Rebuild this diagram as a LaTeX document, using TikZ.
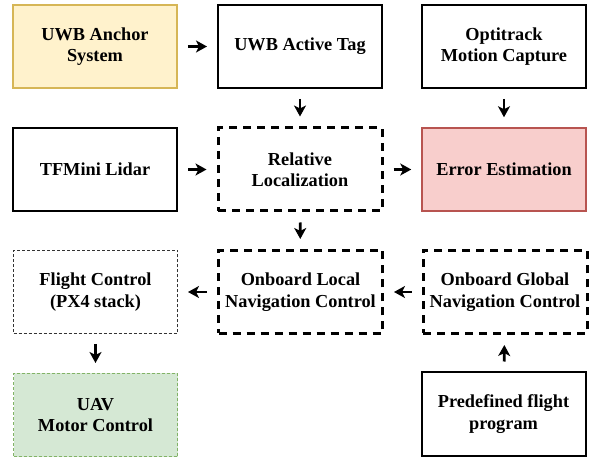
\documentclass[tikz,border=0pt]{standalone}
\usepackage{fontspec}
\newfontfamily\tnr{Liberation Serif}[BoldFont={Liberation Serif Bold}]
\usetikzlibrary{arrows.meta}
\definecolor{yfill}{HTML}{FFF2CC}
\definecolor{ydraw}{HTML}{D6B656}
\definecolor{rfill}{HTML}{F8CECC}
\definecolor{rdraw}{HTML}{B85450}
\definecolor{gfill}{HTML}{D5E8D4}
\definecolor{gdraw}{HTML}{82B366}
\begin{document}
\begin{tikzpicture}[x=1pt,y=-1pt,
  box/.style={minimum width=164pt,minimum height=83pt,align=center,inner sep=0pt,
    font=\tnr\bfseries\fontsize{18.3}{21.5}\selectfont},
  solidbox/.style={box,draw=black,line width=2pt},
  dashbox/.style={box,draw=black,line width=3pt,dash pattern=on 8pt off 6pt},
  dotbox/.style={box,draw=black!80,line width=1pt,dash pattern=on 3pt off 2pt},
  arr/.style={-{Stealth[length=11pt,width=12pt,inset=3pt]},line width=2.8pt,shorten >=10pt,shorten <=10pt}]
\useasboundingbox (0,0) rectangle (595,457);
\node[box,draw=ydraw,fill=yfill,line width=1.5pt] (anchor) at (95,46.5) {UWB Anchor\\System};
\node[solidbox] (tag) at (300,46.5) {UWB Active Tag};
\node[solidbox] (opti) at (504,46.5) {Optitrack\\Motion Capture};
\node[solidbox] (lidar) at (95,169.5) {TFMini Lidar};
\node[dashbox] (rel) at (300,169.5) {Relative\\Localization};
\node[box,draw=rdraw,fill=rfill,line width=1.5pt] (err) at (504,169.5) {Error Estimation};
\node[dotbox] (fc) at (95.5,292) {Flight Control\\(PX4 stack)};
\node[dashbox] (local) at (300.5,292) {Onboard Local\\Navigation Control};
\node[dashbox] (global) at (505,292) {Onboard Global\\Navigation Control};
\node[box,draw=gdraw,fill=gfill,line width=1pt,dash pattern=on 3pt off 2pt] (uav) at (95.5,415) {UAV\\Motor Control};
\node[solidbox] (pre) at (503.5,414) {Predefined flight\\program};
\draw[arr] (anchor) -- (tag);
\draw[arr] (tag) -- (rel);
\draw[arr] (opti) -- (err);
\draw[arr] (lidar) -- (rel);
\draw[arr] (rel) -- (err);
\draw[arr] (rel) -- (local);
\draw[arr] (local) -- (fc);
\draw[arr] (global) -- (local);
\draw[arr] (pre) -- (global);
\draw[arr] (fc) -- (uav);
\end{tikzpicture}
\end{document}
